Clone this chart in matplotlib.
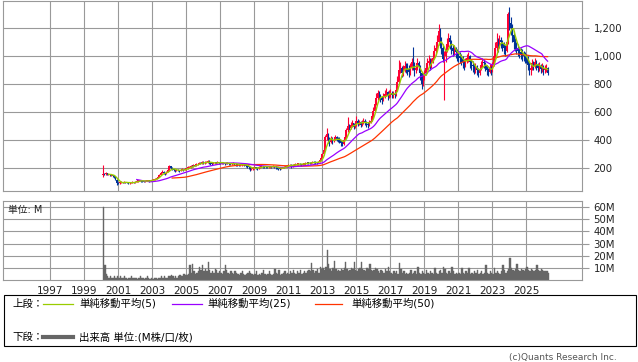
import numpy as np
import pandas as pd
import matplotlib
import matplotlib.pyplot as plt
from matplotlib.lines import Line2D
from matplotlib.patches import Rectangle

matplotlib.use("agg")
plt.rcParams['font.family'] = ['DejaVu Sans', 'Noto Sans CJK JP']

# monthly candles, Feb 2000 .. Apr 2026 (one row per year)
first_open = 150
closes = [
    160, 155, 162, 152, 156, 150, 152, 146, 140, 118, 95,
    92, 98, 100, 95, 102, 98, 96, 92, 95, 98, 100, 97,
    102, 108, 110, 113, 110, 106, 104, 108, 110, 112, 109, 113,
    116, 120, 124, 130, 138, 150, 168, 175, 165, 158, 172, 185,
    212, 200, 192, 186, 180, 188, 185, 182, 188, 190, 186, 192,
    198, 205, 208, 215, 212, 222, 218, 228, 232, 238, 235, 242,
    236, 240, 245, 250, 240, 236, 232, 236, 240, 238, 242, 240,
    238, 240, 236, 232, 238, 235, 230, 228, 232, 235, 230, 228,
    226, 222, 224, 226, 228, 222, 218, 214, 205, 192, 196, 202,
    205, 200, 198, 205, 210, 214, 212, 210, 208, 205, 210, 212,
    210, 214, 212, 205, 200, 198, 196, 200, 205, 210, 214, 218,
    222, 226, 215, 222, 226, 228, 230, 232, 228, 226, 230, 232,
    235, 240, 238, 235, 240, 244, 242, 240, 238, 246, 256, 275,
    300, 330, 420, 445, 400, 385, 410, 392, 402, 420, 410, 405,
    398, 380, 372, 402, 420, 470, 500, 488, 510, 520, 498, 512,
    540, 520, 530, 512, 526, 540, 530, 518, 510, 525, 540, 572,
    610, 660, 700, 740, 720, 700, 690, 712, 730, 742, 720, 736,
    740, 722, 730, 725, 760, 820, 900, 920, 880, 900, 930, 920,
    910, 890, 920, 960, 940, 900, 920, 950, 930, 880, 800, 840,
    880, 920, 950, 970, 940, 960, 990, 1040, 1060, 1100, 1180, 1120,
    1060, 980, 1000, 1050, 1090, 1130, 1100, 1060, 1040, 1050, 1030, 1010,
    1000, 990, 980, 960, 940, 970, 990, 1000, 960, 940, 930, 910,
    920, 900, 880, 910, 940, 960, 950, 930, 900, 890, 920, 900,
    940, 1000, 1060, 1100, 1080, 1120, 1100, 1090, 1060, 1040, 1100, 1300,
    1240, 1200, 1150, 1100, 1080, 1060, 1040, 1030, 1020, 1010, 1000, 990,
    980, 940, 900, 920, 950, 930, 960, 940, 920, 930, 910, 920,
    900, 910, 920, 880,
]
highs = [
    226, 168, 170, 165, 160, 158, 156, 154, 148, 142, 120,
    100, 104, 106, 104, 108, 104, 100, 98, 100, 102, 106, 104,
    106, 112, 116, 118, 116, 112, 108, 112, 114, 116, 114, 118,
    120, 124, 128, 136, 142, 156, 176, 190, 178, 168, 178, 200,
    225, 218, 205, 196, 190, 194, 192, 190, 194, 198, 194, 198,
    204, 212, 214, 222, 220, 228, 226, 234, 238, 245, 242, 250,
    248, 248, 252, 258, 260, 244, 240, 242, 246, 244, 248, 246,
    246, 246, 244, 240, 244, 242, 238, 234, 238, 242, 238, 234,
    232, 230, 230, 232, 234, 230, 226, 222, 218, 208, 204, 208,
    212, 208, 206, 212, 216, 220, 218, 216, 214, 212, 216, 218,
    218, 220, 218, 214, 208, 204, 202, 206, 210, 216, 220, 224,
    228, 232, 230, 228, 232, 234, 236, 240, 236, 232, 236, 238,
    242, 246, 246, 242, 246, 250, 250, 248, 246, 252, 262, 285,
    312, 345, 440, 486, 450, 420, 430, 420, 425, 440, 430, 425,
    420, 405, 395, 415, 445, 490, 569, 515, 530, 545, 525, 530,
    570, 550, 548, 540, 545, 560, 555, 540, 530, 545, 565, 600,
    640, 690, 740, 760, 752, 730, 718, 735, 760, 775, 750, 760,
    770, 755, 750, 748, 790, 860, 975, 960, 930, 940, 970, 955,
    950, 935, 950, 990, 1069, 960, 950, 990, 970, 940, 890, 870,
    900, 950, 985, 1010, 990, 990, 1030, 1080, 1100, 1150, 1230, 1200,
    1140, 1090, 1040, 1080, 1130, 1165, 1150, 1120, 1080, 1080, 1070, 1050,
    1040, 1030, 1020, 1000, 980, 990, 1020, 1030, 1010, 975, 965, 945,
    950, 935, 915, 935, 965, 985, 980, 960, 935, 920, 945, 930,
    960, 1030, 1100, 1165, 1130, 1150, 1140, 1120, 1100, 1080, 1130, 1320,
    1355, 1280, 1230, 1180, 1130, 1100, 1090, 1070, 1060, 1050, 1040, 1030,
    1020, 1000, 960, 950, 980, 970, 990, 975, 955, 960, 945, 950,
    935, 940, 945, 925,
]
lows = [
    140, 148, 150, 148, 148, 145, 146, 140, 132, 112, 80,
    85, 88, 94, 92, 94, 94, 92, 88, 90, 93, 96, 94,
    95, 100, 104, 106, 104, 102, 100, 102, 105, 106, 104, 106,
    110, 114, 118, 122, 128, 136, 148, 162, 158, 150, 156, 170,
    182, 195, 186, 178, 174, 178, 180, 176, 180, 184, 180, 184,
    188, 195, 200, 204, 205, 210, 212, 216, 224, 228, 228, 232,
    228, 230, 236, 240, 232, 226, 224, 228, 232, 232, 234, 232,
    230, 232, 228, 224, 228, 228, 222, 220, 224, 228, 222, 218,
    216, 214, 216, 218, 220, 214, 210, 204, 192, 178, 184, 190,
    196, 192, 190, 196, 202, 206, 204, 204, 200, 198, 202, 204,
    202, 206, 204, 196, 192, 190, 188, 192, 198, 202, 206, 210,
    214, 218, 198, 208, 218, 220, 222, 224, 220, 218, 222, 224,
    226, 232, 230, 228, 232, 236, 234, 232, 230, 236, 244, 254,
    270, 296, 325, 405, 380, 360, 378, 375, 385, 398, 392, 385,
    378, 355, 358, 365, 398, 415, 460, 470, 480, 495, 480, 490,
    505, 505, 510, 495, 505, 518, 512, 495, 488, 500, 520, 535,
    560, 600, 650, 690, 695, 670, 660, 680, 700, 715, 690, 700,
    710, 700, 705, 700, 715, 755, 810, 880, 850, 860, 890, 880,
    870, 850, 870, 905, 900, 860, 880, 900, 890, 830, 770, 790,
    830, 870, 905, 930, 900, 920, 950, 980, 1010, 1040, 1080, 1060,
    1020, 960, 690, 960, 1030, 1070, 1050, 1020, 1000, 1010, 990, 970,
    960, 950, 940, 920, 900, 925, 950, 960, 920, 900, 890, 875,
    880, 865, 850, 870, 900, 925, 920, 895, 865, 860, 880, 865,
    890, 930, 990, 1040, 1030, 1060, 1060, 1040, 1020, 1000, 1030, 1090,
    1190, 1150, 1100, 1050, 1040, 1020, 1000, 990, 980, 970, 965, 955,
    950, 905, 865, 870, 905, 900, 920, 905, 890, 895, 880, 890,
    870, 880, 890, 866,
]

# monthly volume (M)
volume = [
    60, 12, 5, 3, 2, 3, 2, 2, 3, 2, 3,
    2, 3, 2, 2, 3, 2, 1, 2, 2, 3, 2, 2,
    2, 1, 2, 3, 2, 2, 1, 2, 3, 2, 1, 2,
    1, 2, 2, 1, 2, 2, 3, 2, 3, 2, 2, 3,
    3, 4, 3, 2, 3, 2, 3, 4, 3, 3, 5, 4,
    4, 5, 12, 6, 13, 7, 5, 6, 7, 11, 8, 12,
    7, 9, 7, 15, 8, 6, 7, 6, 9, 8, 6, 7,
    6, 5, 7, 12, 8, 6, 5, 7, 6, 5, 7, 6,
    5, 4, 6, 7, 5, 4, 5, 6, 7, 6, 5, 4,
    5, 7, 4, 5, 4, 6, 8, 5, 4, 5, 7, 5,
    4, 5, 9, 6, 5, 8, 4, 5, 6, 7, 5, 6,
    5, 7, 6, 8, 6, 5, 7, 6, 8, 5, 6, 7,
    6, 7, 8, 7, 14, 8, 6, 7, 9, 6, 11, 9,
    10, 8, 11, 25, 13, 9, 7, 10, 16, 9, 7, 8,
    7, 9, 8, 10, 15, 9, 7, 8, 10, 9, 15, 8,
    7, 9, 10, 15, 9, 8, 7, 10, 9, 13, 8, 7,
    8, 10, 9, 7, 6, 8, 7, 6, 9, 7, 11, 7,
    6, 5, 7, 6, 7, 5, 14, 9, 6, 7, 5, 6,
    5, 6, 8, 5, 6, 7, 5, 11, 6, 5, 7, 6,
    5, 8, 6, 5, 7, 6, 5, 10, 6, 5, 7, 8,
    6, 11, 9, 6, 5, 7, 6, 11, 7, 5, 6, 5,
    6, 5, 10, 6, 5, 7, 6, 10, 5, 6, 5, 7,
    6, 8, 5, 6, 7, 5, 6, 12, 6, 5, 7, 6,
    5, 10, 6, 7, 6, 5, 7, 12, 8, 6, 7, 9,
    18, 10, 8, 7, 9, 13, 8, 7, 9, 8, 7, 9,
    11, 8, 7, 9, 8, 7, 8, 12, 8, 7, 9, 8,
    7, 7, 7, 6,
]

price_ticks = [200, 400, 600, 800, 1000, 1200]
vol_ticks = [10, 20, 30, 40, 50, 60]
year_ticks = list(range(1997, 2026, 2))

dates = pd.date_range("2000-02-01", periods=len(closes), freq="MS")
x = np.asarray(dates.year + (dates.month - 1) / 12.0)
close = pd.Series(closes, dtype=float)
opens = close.shift(1).fillna(first_open)

up_col = "#ff0033"
down_col = "#003399"
grid_col = "#999999"
xl = (1994.235, 2028.29)

fig = plt.figure(figsize=(6.38, 3.62), dpi=100)
ax = fig.add_axes([3.3 / 638, 1 - 190.5 / 362, 579 / 638, 190 / 362])
axv = fig.add_axes([3.3 / 638, 1 - 280 / 362, 579 / 638, 79 / 362])

for a in (ax, axv):
    for s in a.spines.values():
        s.set_color(grid_col)
        s.set_linewidth(0.8)
    a.set_xlim(xl)
    a.set_xticks(year_ticks)
    a.grid(True, color=grid_col, linewidth=0.8)
    a.set_axisbelow(True)
    a.yaxis.tick_right()
    a.tick_params(axis="y", direction="out", length=5, width=0.8, color=grid_col,
                  labelsize=7.3, pad=3, labelcolor="#222222")
    a.tick_params(axis="x", length=0, labelsize=7.5, pad=4, labelcolor="#222222")

# candles
colors = np.where(close.values >= opens.values, up_col, down_col)
ax.vlines(x, lows, highs, colors=colors, linewidth=0.8)
body_lo = np.minimum(opens, close).values
body_h = np.maximum(np.abs(close.values - opens.values), 4)
ax.bar(x, body_h, bottom=body_lo, width=0.11, color=colors, linewidth=0)

ax.plot(x, close.rolling(50).mean(), color="#ff3300", linewidth=0.9)
ax.plot(x, close.rolling(25).mean(), color="#9900ff", linewidth=0.9)
ax.plot(x, close.rolling(5).mean(), color="#99cc00", linewidth=1.0)

ax.set_ylim(40, 1400)
ax.set_yticks(price_ticks)
ax.set_yticklabels([f"{v:,}" for v in price_ticks])
ax.set_xticklabels([])

axv.bar(x, volume, width=1 / 12, color="#666666", edgecolor="#666666",
        linewidth=0.3, align="edge")
axv.set_ylim(0, 65)
axv.set_yticks(vol_ticks)
axv.set_yticklabels([f"{v}M" for v in vol_ticks])
axv.set_xticklabels([str(y) for y in year_ticks])
axv.text(0.008, 0.95, "単位: M", transform=axv.transAxes, fontsize=7,
         va="top", ha="left", color="#222222")

# legend box
fig.patches.append(Rectangle((3.5 / 638, 1 - 346 / 362), 632 / 638, 51 / 362,
                             transform=fig.transFigure, fill=False,
                             edgecolor="black", linewidth=0.8))
row1 = 1 - 303.5 / 362
row2 = 1 - 337 / 362
fs = 7.5
fig.text(12 / 638, row1, "上段：", fontsize=fs, va="center")
items = [(43, 73, 79, "#99cc00", "単純移動平均(5)"),
         (172, 202, 207, "#9900ff", "単純移動平均(25)"),
         (315, 342, 351, "#ff3300", "単純移動平均(50)")]
for x0, x1, tx, c, label in items:
    fig.lines.append(Line2D([x0 / 638, x1 / 638], [row1, row1], color=c,
                            linewidth=0.9, transform=fig.transFigure))
    fig.text(tx / 638, row1, label, fontsize=fs, va="center")
fig.text(12 / 638, row2, "下段：", fontsize=fs, va="center")
fig.lines.append(Line2D([43 / 638, 73 / 638], [row2, row2], color="#666666",
                        linewidth=3, transform=fig.transFigure))
fig.text(79 / 638, row2, "出来高 単位:(M株/口/枚)", fontsize=fs, va="center")

fig.text(617 / 638, 1 - 357.5 / 362, "(c)Quants Research Inc.", fontsize=6.5,
         ha="right", va="center", color="#555555")

fig.savefig("out.png", dpi=100)
plt.close()
